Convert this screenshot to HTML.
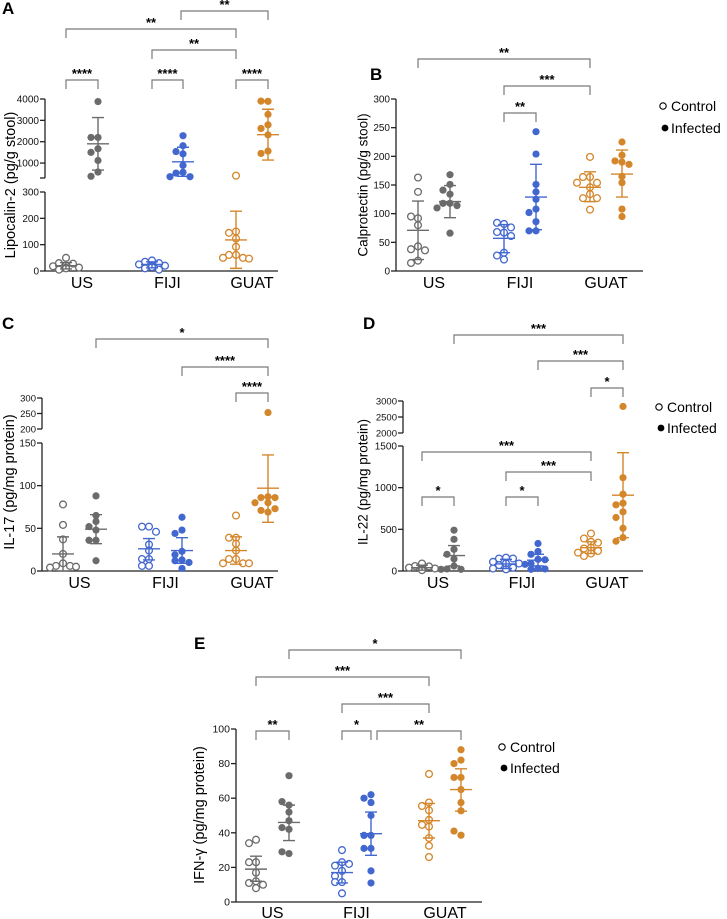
<!DOCTYPE html>
<html><head><meta charset="utf-8"><style>
html,body{margin:0;padding:0;background:#fff;}
svg{display:block;font-family:"Liberation Sans",Arial,sans-serif;}
</style></head><body>
<svg id="fig" width="727" height="919" viewBox="0 0 727 919"></svg>
<script>
// ---------- DATA ----------
const categories = ["US","FIJI","GUAT"];
const groupNames = ["US-control","US-infected","FIJI-control","FIJI-infected","GUAT-control","GUAT-infected"];
// Panel A: Lipocalin-2
const aValues = [
  [50,30,28,20,18,13,12,10,5],
  [3880,2200,2200,1670,1500,1120,580,380],
  [40,35,30,25,20,20,15,10,5],
  [2280,1810,1540,1430,890,565,530,360,360],
  [410,150,145,123,92,61,61,50,50,47],
  [3890,3900,3280,2790,2620,2320,1560,1450]
];
const aMean=[20,1900,25,1060,118,2330], aHi=[32,3130,35,1740,227,3520], aLo=[8,670,12,380,10,1140];
// Panel B: Calprotectin
const bValues = [
  [163,138,92,95,80,43,38,36,18,14],
  [168,151,141,134,118,118,114,110,66],
  [82,84,76,67,68,61,32,27,20],
  [243,204,151,138,125,108,102,86,70,70],
  [199,164,164,154,154,146,134,127,127,107],
  [225,190,202,192,186,165,154,108,95]
];
const bMean=[71,121,57,129,146,169], bHi=[122,149,81,186,173,211], bLo=[20,93,32,72,121,129];
// Panel C: IL-17
const cValues = [
  [78,54,37,20,9,6,6,4,5],
  [88,65,58,52,48,36,36,12],
  [52,52,46,31,24,14,14,6,6],
  [63,48,44,23,19,13,12,10,3],
  [65,39,39,32,24,14,14,9,9,9],
  [253,87,86,86,80,80,69,71,73]
];
const cMean=[20,49,26,24,24,97], cHi=[40,66,38,39,40,136], cLo=[0,32,13,9,8,57];
// Panel D: IL-22
const dValues = [
  [90,60,55,40,30,25,20,15,10],
  [490,380,260,200,145,60,25,20,20],
  [160,150,150,110,90,90,70,40,30,20],
  [330,235,200,140,135,90,80,30,25,20],
  [450,390,350,340,280,270,240,220,210,180],
  [2830,1120,922,814,794,710,642,513,401,357]
];
const dMean=[40,185,85,130,280,910], dHi=[70,305,140,200,350,1420], dLo=[10,60,30,60,210,400];
// Panel E: IFN-gamma
const eValues = [
  [36,34,23,23,17,12,8,11,10],
  [73,56,58,52,47,42,43,28,29],
  [30,23,21,22,18,15,11.5,11.5,5],
  [62,60,57.5,50,38.5,38.5,31,31,18,11],
  [74,57.5,55.5,53,47.5,44.6,43.6,37,32.5,26],
  [88,82,80,72,72,65,57.5,52.7,38.6,41]
];
const eMean=[19,46,17,39.5,47,65], eHi=[26.5,56,23,52,57,77], eLo=[12,35.5,11,27,37,52.5];
const aTicksLow=[0,100,200,300], aTicksHigh=[1000,2000,3000,4000];
const bTicks=[0,50,100,150,200,250,300];
const cTicksLow=[0,50,100,150], cTicksHigh=[200,250,300];
const dTicksLow=[0,500,1000,1500], dTicksHigh=[2000,2500,3000];
const eTicks=[0,20,40,60,80,100];

// ---------- LAYOUT ----------
const COLORS=["#6b6b6b","#6b6b6b","#4267cf","#4267cf","#d4862b","#d4862b"];
const NS="http://www.w3.org/2000/svg";
const svg=document.getElementById('fig');
function mk(tag,attrs,parent){const e=document.createElementNS(NS,tag);for(const k in attrs)e.setAttribute(k,attrs[k]);(parent||svg).appendChild(e);return e;}
function txt(s,attrs,parent){const t=mk('text',attrs,parent);t.textContent=s;return t;}

const panels=[
 {id:'a',label:'A',lx:2,ly:14,values:aValues,mean:aMean,hi:aHi,lo:aLo,ax:45,xend:278,y0:271,
  segs:[{lo:0,hi:300,ylo:271,yhi:192,ticks:aTicksLow},{lo:300,hi:4000,ylo:178,yhi:99,ticks:aTicksHigh,noFirst:true}],
  gx:[66,98,152,183,236,268],catY:289,title:'Lipocalin-2 (pg/g stool)',tx:11,ty:185,tfs:14.5,tickFs:10,
  br:[[66,98,80,'****'],[152,183,80,'****'],[236,268,80,'****'],[152,236,50,'**'],[66,236,29,'**'],[181,268,11,'**']]},
 {id:'b',label:'B',lx:370,ly:80,values:bValues,mean:bMean,hi:bHi,lo:bLo,ax:396,xend:643,y0:271,
  segs:[{lo:0,hi:300,ylo:271,yhi:99,ticks:bTicks}],
  gx:[418,450,504,536,590,622],catY:289,title:'Calprotectin (pg/g stool)',tx:364,ty:185,tfs:13.5,tickFs:10,
  br:[[418,590,59,'**'],[504,590,86,'***'],[504,536,113,'**']],legend:[663,106,128]},
 {id:'c',label:'C',lx:2,ly:329,values:cValues,mean:cMean,hi:cHi,lo:cLo,ax:42,xend:278,y0:571,
  segs:[{lo:0,hi:150,ylo:571,yhi:443,ticks:cTicksLow},{lo:200,hi:300,ylo:429,yhi:398,ticks:cTicksHigh,small:true}],
  gx:[63,96,149,182,236,268],catY:589,title:'IL-17 (pg/mg protein)',tx:10,ty:482,tfs:14.5,tickFs:10,
  br:[[96,268,339,'*'],[182,268,367,'****'],[236,268,393,'****']]},
 {id:'d',label:'D',lx:363,ly:329,values:dValues,mean:dMean,hi:dHi,lo:dLo,ax:403,xend:643,y0:571,
  segs:[{lo:0,hi:1500,ylo:571,yhi:446,ticks:dTicksLow},{lo:2000,hi:3000,ylo:433,yhi:401,ticks:dTicksHigh,small:true}],
  gx:[422,454,506,538,591,623],catY:589,title:'IL-22 (pg/mg protein)',tx:364,ty:482,tfs:13.5,tickFs:10,
  br:[[454,623,335,'***'],[538,623,361,'***'],[591,623,388,'*'],[422,591,452,'***'],[506,591,472,'***'],[422,454,497,'*'],[506,538,497,'*']],legend:[659,407,428]},
 {id:'e',label:'E',lx:194,ly:649,values:eValues,mean:eMean,hi:eHi,lo:eLo,ax:236,xend:482,y0:902,
  segs:[{lo:0,hi:100,ylo:902,yhi:729,ticks:eTicks}],
  gx:[256,289,342,371,429,461],catY:919,title:'IFN-γ (pg/mg protein)',tx:200,ty:815,tfs:14.5,tickFs:10.5,
  br:[[289,461,650,'*'],[256,429,677,'***'],[342,429,704,'***'],[256,289,731,'**'],[342,371,731,'*'],[377,461,731,'**']],legend:[502,747,768]}
];

function yOf(p,v){
  for(const s of p.segs){ if(v<=s.hi){ const vv=Math.max(v,s.lo); return s.ylo+(vv-s.lo)/(s.hi-s.lo)*(s.yhi-s.ylo);} }
  const s=p.segs[p.segs.length-1]; return s.yhi;
}

panels.forEach(p=>{
  const g=mk('g',{});
  
  
  const pl=txt(p.label,{x:p.lx,y:p.ly,'font-size':17,'font-weight':'bold',fill:'#000'},g);
  
  
  p.segs.forEach((s,si)=>{
    const ln=mk('line',{x1:p.ax,x2:p.ax,y1:s.ylo,y2:s.yhi,stroke:'#222','stroke-width':1.3},g);
    
    
    if(s.noFirst){mk('line',{x1:p.ax-5,x2:p.ax,y1:s.ylo,y2:s.ylo,stroke:'#222','stroke-width':1.3},g);}
    s.ticks.forEach(tv=>{
      const yy=yOf(p,tv);
      mk('line',{x1:p.ax-5,x2:p.ax,y1:yy,y2:yy,stroke:'#222','stroke-width':1.3},g);
      const tl=txt(String(tv),{x:p.ax-6,y:yy+3.5,'text-anchor':'end','font-size':s.small?9.5:p.tickFs,fill:'#111'},g);
      
      
    });
  });
  const xl=mk('line',{x1:p.ax,x2:p.xend,y1:p.y0,y2:p.y0,stroke:'#222','stroke-width':1.3},g);
  
  
  categories.forEach((c,i)=>{
    const cx=(p.gx[2*i]+p.gx[2*i+1])/2;
    const t=txt(c,{x:cx,y:p.catY-1,'text-anchor':'middle','font-size':16,fill:'#000'},g);
    
    
  });
  const yt=txt(p.title,{x:p.tx,y:p.ty,'text-anchor':'middle','font-size':p.tfs,fill:'#000',transform:'rotate(-90 '+p.tx+' '+p.ty+')','dominant-baseline':'middle'},g);
  
  
  p.br.forEach(b=>{
    const [xa,xb,y,s]=b;
    const pth=mk('path',{d:`M${xa} ${y+9}V${y}H${xb}V${y+9}`,fill:'none',stroke:'#7a7a7a','stroke-width':1.2},g);
    
    
    const st=txt(s,{x:(xa+xb)/2,y:y-2,'text-anchor':'middle','font-size':13,'font-weight':'bold',fill:'#000'},g);
    
    
  });
  p.values.forEach((vals,gi)=>{
    const col=COLORS[gi], cx=p.gx[gi], open=gi%2===0;
    const gg=mk('g',{},g);
    
    
    const placed=[];
    vals.forEach(v=>{
      const y=yOf(p,v);
      let off=0;
      for(const o of [0,-7,7,-13,13,-18,18]){
        if(placed.every(q=>Math.hypot(q[0]-(cx+o),q[1]-y)>=5.8)){off=o;break;}
      }
      placed.push([cx+off,y]);
      const c=mk('circle',{cx:cx+off,cy:y,r:open?3.4:3.6,fill:open?'#fff':col,stroke:col,'stroke-width':open?1.3:0},gg);
      
      
    });
    const ym=yOf(p,p.mean[gi]),yh=yOf(p,p.hi[gi]),yl=yOf(p,p.lo[gi]);
    const eb=mk('path',{d:`M${cx} ${yh}V${yl}M${cx-6} ${yh}H${cx+6}M${cx-6} ${yl}H${cx+6}M${cx-11} ${ym}H${cx+11}`,fill:'none',stroke:col,'stroke-width':1.4},gg);
    
    
  });
  if(p.legend){
    const [lx,y1,y2]=p.legend;
    const lg=mk('g',{},g);
    
    
    mk('circle',{cx:lx,cy:y1,r:3.2,fill:'#fff',stroke:'#000','stroke-width':1.1},lg);
    const t1=txt('Control',{x:lx+8,y:y1+5,'font-size':14,fill:'#000'},lg);
    
    
    mk('circle',{cx:lx+2,cy:y2,r:3.4,fill:'#000'},lg);
    const t2=txt('Infected',{x:lx+8,y:y2+5,'font-size':14,fill:'#000'},lg);
    
    
  }
});
</script>
</body></html>
